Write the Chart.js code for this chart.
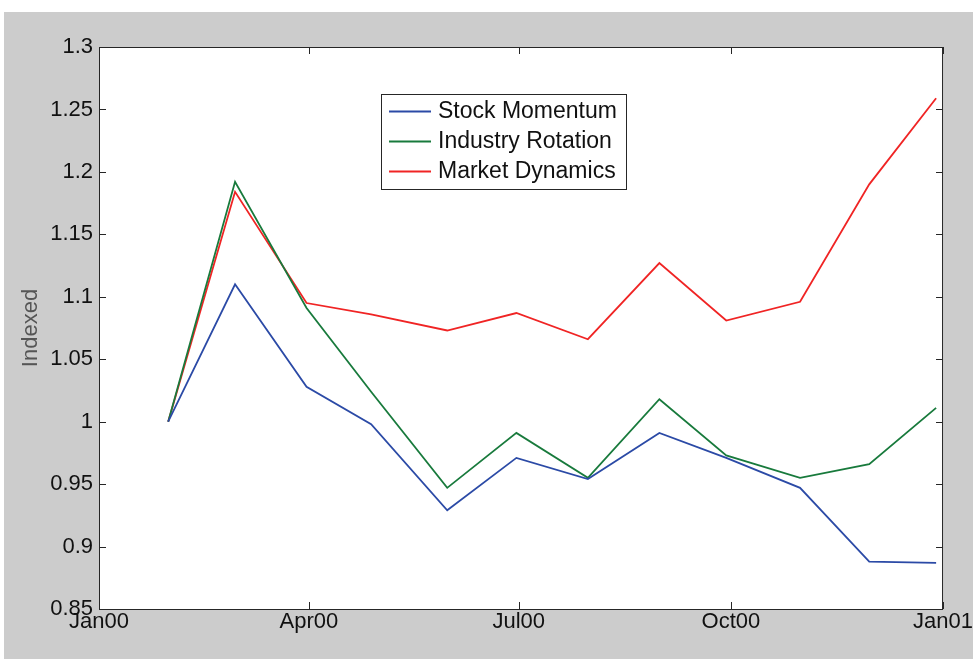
<!DOCTYPE html>
<html>
<head>
<meta charset="utf-8">
<script src="https://cdn.jsdelivr.net/npm/chart.js@4.4.1/dist/chart.umd.min.js"></script>
<style>
  html, body { margin: 0; padding: 0; background: #fff; }
  #wrap { position: absolute; left: 4px; top: 12px; width: 969px; height: 647px; background: #cccccc; }
  canvas { display: block; }
</style>
</head>
<body>
<div id="wrap"><canvas id="chart" width="969" height="647"></canvas></div>
<script>
// days since 1 Jan 2000 (month-end observations)
const days = [30, 59, 90, 118, 151, 181, 212, 243, 272, 304, 334, 363];
const stockMomentum = [1.0, 1.110, 1.028, 0.998, 0.929, 0.971, 0.954, 0.991, 0.971, 0.947, 0.888, 0.887];
const industryRotation = [1.0, 1.192, 1.091, 1.024, 0.947, 0.991, 0.955, 1.018, 0.973, 0.955, 0.966, 1.011];
const marketDynamics = [1.0, 1.184, 1.095, 1.086, 1.073, 1.087, 1.066, 1.127, 1.081, 1.096, 1.190, 1.259];
const xTickDays = [0, 91, 182, 274, 366];
const xTickLabels = ['Jan00', 'Apr00', 'Jul00', 'Oct00', 'Jan01'];

const FONT = 'Liberation Sans, Arial, sans-serif';

function pts(vals) {
  return vals.map((v, i) => ({ x: days[i], y: v }));
}

// MATLAB-like box with inward ticks plus a legend inside the axes
const boxPlugin = {
  id: 'boxPlugin',
  beforeDatasetsDraw(chart) {
    const { ctx, chartArea: a } = chart;
    ctx.save();
    ctx.fillStyle = '#ffffff';
    ctx.fillRect(a.left, a.top, a.right - a.left, a.bottom - a.top);
    ctx.restore();
  },
  afterDraw(chart) {
    const { ctx, chartArea: a, scales } = chart;
    ctx.save();
    ctx.strokeStyle = '#262626';
    ctx.lineWidth = 1;
    ctx.strokeRect(a.left + 0.5, a.top + 0.5, a.right - a.left - 1, a.bottom - a.top);
    const tl = 7;
    ctx.beginPath();
    scales.y.ticks.forEach(t => {
      const y = Math.round(scales.y.getPixelForValue(t.value)) + 0.5;
      ctx.moveTo(a.left, y); ctx.lineTo(a.left + tl, y);
      ctx.moveTo(a.right, y); ctx.lineTo(a.right - tl, y);
    });
    scales.x.ticks.forEach(t => {
      const x = Math.round(scales.x.getPixelForValue(t.value)) + 0.5;
      ctx.moveTo(x, a.bottom); ctx.lineTo(x, a.bottom - tl);
      ctx.moveTo(x, a.top); ctx.lineTo(x, a.top + tl);
    });
    ctx.stroke();

    // legend
    const lx = 377, ly = 82, lw = 245, lh = 95;
    ctx.fillStyle = '#ffffff';
    ctx.fillRect(lx, ly, lw, lh);
    ctx.strokeStyle = '#262626';
    ctx.strokeRect(lx + 0.5, ly + 0.5, lw, lh);
    ctx.font = '23px ' + FONT;
    ctx.textBaseline = 'middle';
    ctx.textAlign = 'left';
    chart.data.datasets.forEach((ds, i) => {
      const y = ly + 17 + i * 30;
      ctx.strokeStyle = ds.borderColor;
      ctx.lineWidth = 1.8;
      ctx.beginPath();
      ctx.moveTo(lx + 8, y + 0.5);
      ctx.lineTo(lx + 50, y + 0.5);
      ctx.stroke();
      ctx.fillStyle = '#111';
      ctx.fillText(ds.label, lx + 57, y + 1);
    });
    ctx.restore();
  }
};

new Chart(document.getElementById('chart'), {
  type: 'line',
  data: {
    datasets: [
      { label: 'Stock Momentum', data: pts(stockMomentum), borderColor: '#2b4aa6' },
      { label: 'Industry Rotation', data: pts(industryRotation), borderColor: '#187a3c' },
      { label: 'Market Dynamics', data: pts(marketDynamics), borderColor: '#f02424' }
    ]
  },
  options: {
    responsive: false,
    animation: false,
    devicePixelRatio: 1,
    layout: { padding: { top: 35, right: 29, left: 0, bottom: 0 } },
    elements: {
      line: { borderWidth: 1.8, tension: 0 },
      point: { radius: 0 }
    },
    plugins: {
      legend: { display: false },
      tooltip: { enabled: false }
    },
    scales: {
      x: {
        type: 'linear',
        min: 0,
        max: 366,
        afterBuildTicks: (s) => { s.ticks = xTickDays.map(v => ({ value: v })); },
        afterFit: (s) => { s.height = 50; },
        grid: { display: false, drawTicks: false },
        border: { display: false },
        ticks: {
          padding: 0,
          autoSkip: false,
          maxRotation: 0,
          color: '#111',
          font: { family: FONT, size: 22 },
          callback: (v) => xTickLabels[xTickDays.indexOf(v)]
        }
      },
      y: {
        min: 0.85,
        max: 1.3,
        afterBuildTicks: (s) => {
          const t = [];
          for (let i = 0; i <= 9; i++) t.push({ value: +(0.85 + i * 0.05).toFixed(2) });
          s.ticks = t;
        },
        afterFit: (s) => { s.width = 95; },
        grid: { display: false, drawTicks: false },
        border: { display: false },
        ticks: {
          padding: 6,
          color: '#111',
          font: { family: FONT, size: 22 },
          callback: (v) => String(+v.toFixed(2))
        },
        title: {
          display: true,
          text: 'Indexed',
          color: '#555',
          font: { family: FONT, size: 22 },
          padding: { top: 14, bottom: 0 }
        }
      }
    }
  },
  plugins: [boxPlugin]
});
</script>
</body>
</html>
